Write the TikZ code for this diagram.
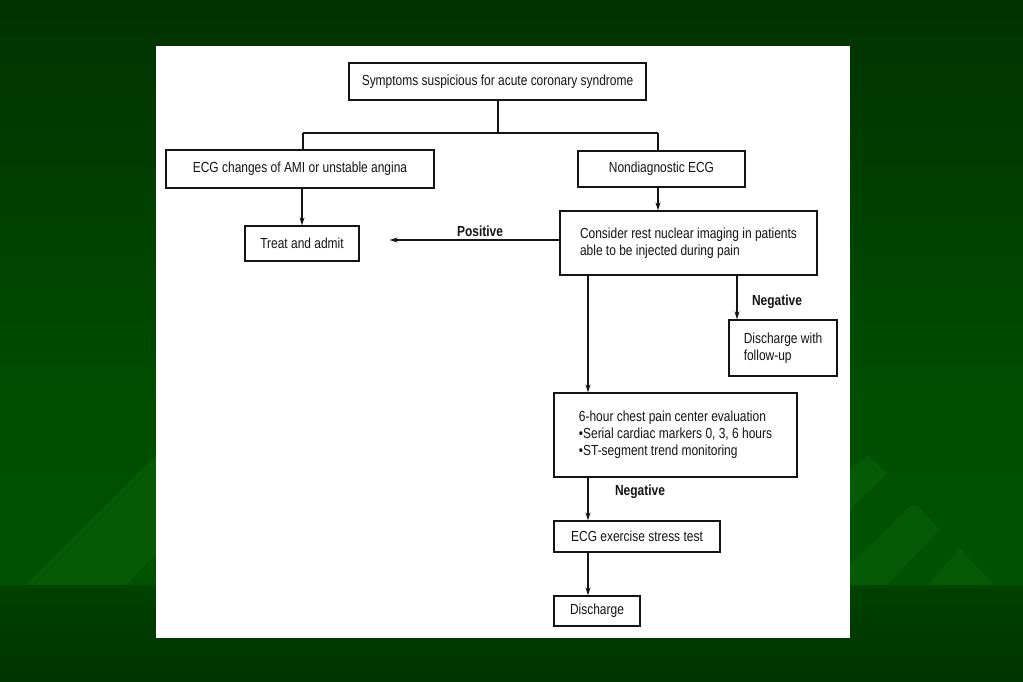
\documentclass[tikz,border=0pt]{standalone}
\usepackage{fontspec}
\setmainfont{Liberation Sans}[FakeStretch=0.82]
\usetikzlibrary{arrows.meta}
\definecolor{bgtop}{RGB}{1,50,1}
\definecolor{bgmid}{RGB}{0,78,0}
\definecolor{bglow}{RGB}{0,82,0}
\definecolor{bgband}{RGB}{0,66,0}
\definecolor{bgbot}{RGB}{0,51,0}
\definecolor{tri}{RGB}{6,90,6}
\definecolor{ink}{RGB}{20,20,20}
\tikzset{
  box/.style={draw=ink, line width=1.3pt, rectangle, inner sep=0pt, align=left,
    font=\fontsize{14.6}{17}\selectfont, text=ink},
  lbl/.style={font=\fontsize{14.6}{17}\selectfont\bfseries, text=ink, inner sep=0pt},
  ln/.style={draw=ink, line width=1.3pt},
  arr/.style={ln, -{Stealth[length=8pt,width=5pt]}}
}
\begin{document}
\begin{tikzpicture}[x=1pt,y=-1pt]
% background
\shade[top color=bgtop, bottom color=bgmid] (0,0) rectangle (1023,400);
\shade[top color=bgmid, bottom color=bglow] (0,400) rectangle (1023,585);
\shade[top color=bgband, bottom color=bgbot] (0,585) rectangle (1023,682);
% decorative triangles
\fill[tri] (26,585) -- (156,455) -- (156,555) -- (126,585) -- cycle;
\fill[tri] (830,585) -- (910,506) -- (918,506) -- (940,530) -- (887,585) -- cycle;
\fill[tri] (928,585) -- (960,548) -- (994,585) -- cycle;
\fill[tri] (850,470) -- (868,455) -- (887,474) -- (850,510) -- cycle;
% white panel
\fill[white] (156,46) rectangle (850,638);

% nodes
\node[box, minimum width=297pt, minimum height=37pt] (sym) at (497.5,81.5) {Symptoms suspicious for acute coronary syndrome};
\node[box, minimum width=268pt, minimum height=38pt] (ecg) at (300,169) {ECG changes of AMI or unstable angina};
\node[box, minimum width=167pt, minimum height=36pt] (nondiag) at (661.5,169) {Nondiagnostic ECG};
\node[box, minimum width=114pt, minimum height=35pt] (treat) at (302,243.5) {Treat and admit};
\node[box, minimum width=257pt, minimum height=64pt] (consider) at (688.5,243) {Consider rest nuclear imaging in patients\\able to be injected during pain};
\node[box, minimum width=108pt, minimum height=56pt] (dfu) at (783,348) {Discharge with\\follow-up};
\node[box, minimum width=243pt, minimum height=84pt] (sixh) at (675.5,435) {6-hour chest pain center evaluation\\\textbullet Serial cardiac markers 0, 3, 6 hours\\\textbullet ST-segment trend monitoring};
\node[box, minimum width=166pt, minimum height=31pt] (ecgex) at (637,536.5) {ECG exercise stress test};
\node[box, minimum width=86pt, minimum height=30pt] (dis) at (597,611) {Discharge};

% labels
\node[lbl] (pos) at (480,231) {Positive};
\node[lbl] (neg1) at (777,302) {Negative};
\node[lbl] (neg2) at (640,492) {Negative};

% coordinates for connector lines
\coordinate (bl) at (303,133);
\coordinate (br) at (658,133);
\coordinate (c0) at (498,0);
\coordinate (c1) at (588,0);
\coordinate (c2) at (737,0);
\coordinate (c3) at (0,240);

% connectors
\draw[ln] (c0 |- sym.south) -- (c0 |- bl);
\draw[ln] (bl) -- (br);
\draw[ln] (bl) -- (bl |- ecg.north);
\draw[ln] (br) -- (br |- nondiag.north);
\draw[arr] (ecg.south -| treat.north) -- (treat.north);
\draw[arr] (br |- nondiag.south) -- (br |- consider.north);
\draw[arr, shorten >=30pt] (consider.west |- c3) -- (treat.east |- c3);
\draw[arr] (c2 |- consider.south) -- (c2 |- dfu.north);
\draw[arr] (c1 |- consider.south) -- (c1 |- sixh.north);
\draw[arr] (c1 |- sixh.south) -- (c1 |- ecgex.north);
\draw[arr] (c1 |- ecgex.south) -- (c1 |- dis.north);
\end{tikzpicture}
\end{document}
